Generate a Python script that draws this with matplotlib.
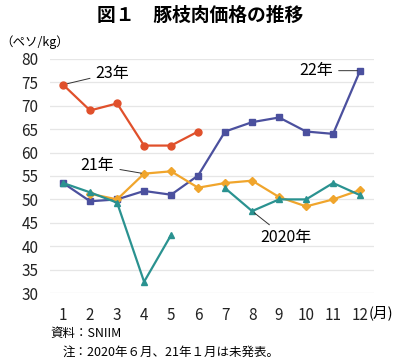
import matplotlib.pyplot as plt
import numpy as np

plt.rcParams['font.family'] = ['Noto Sans CJK JP', 'DejaVu Sans']

months = list(range(1, 13))
month_labels = [str(m) for m in months]
nan = np.nan

# pesos / kg
y2023 = [74.5, 69.0, 70.5, 61.5, 61.5, 64.5, nan, nan, nan, nan, nan, nan]
y2022 = [53.5, 49.6, 50.0, 51.8, 51.0, 55.1, 64.5, 66.5, 67.5, 64.5, 64.0, 77.5]
y2021 = [nan, 51.2, 50.0, 55.5, 56.0, 52.5, 53.5, 54.0, 50.5, 48.5, 50.0, 52.0]
y2020 = [53.5, 51.5, 49.3, 32.4, 42.4, nan, 52.4, 47.5, 50.0, 50.0, 53.5, 50.9]

c23 = '#e0502b'
c22 = '#4b509e'
c21 = '#f0a52c'
c20 = '#2a9290'

fig = plt.figure(figsize=(4.0, 3.64), dpi=100)
ax = fig.add_axes([0.124, 0.195, 0.81, 0.643])

ax.plot(months, y2022, color=c22, marker='s', ms=5, lw=1.6, zorder=3)
ax.plot(months, y2021, color=c21, marker='D', ms=4.5, lw=1.6, zorder=3)
ax.plot(months, y2020, color=c20, marker='^', ms=5, lw=1.6, zorder=3)
ax.plot(months, y2023, color=c23, marker='o', ms=5, lw=1.6, zorder=4)

ax.set_xlim(0.5, 12.5)
ax.set_ylim(30, 80)
ax.set_yticks(range(30, 81, 5))
ax.set_xticks(months)
ax.set_xticklabels(month_labels)
ax.grid(axis='y', color='#e6e6e6', lw=0.9)
ax.set_axisbelow(True)
for s in ax.spines.values():
    s.set_visible(False)
ax.tick_params(length=0, labelsize=11, colors='#222222')
ax.tick_params(axis='x', pad=10)
ax.tick_params(axis='y', pad=8)

# series labels
line = dict(arrowstyle='-', color='#333333', lw=0.7)
ax.annotate('23年', xy=(1, y2023[0]), xytext=(2.2, 77.0), fontsize=11.5,
            va='center', ha='left', arrowprops=line)
ax.annotate('22年', xy=(12, y2022[11]), xytext=(11.0, 77.5), fontsize=11.5,
            va='center', ha='right', arrowprops=line)
ax.annotate('21年', xy=(4, y2021[3]), xytext=(2.9, 57.2), fontsize=11.5,
            va='center', ha='right', arrowprops=line)
ax.annotate('2020年', xy=(8, y2020[7]), xytext=(8.3, 41.8), fontsize=11.5,
            va='center', ha='left', arrowprops=line)

fig.text(0.5, 0.958, '図１　豚枝肉価格の推移', ha='center', va='center',
         fontsize=13.5, fontweight='bold')
fig.text(0.0, 0.885, '（ペソ/kg）', ha='left', va='center', fontsize=9)
fig.text(0.922, 0.14, '(月)', ha='left', va='center', fontsize=10.5)
fig.text(0.125, 0.085, '資料：SNIIM', ha='left', va='center', fontsize=9)
fig.text(0.157, 0.033, '注：2020年６月、21年１月は未発表。', ha='left', va='center', fontsize=9)

fig.savefig('out.png', dpi=100)
